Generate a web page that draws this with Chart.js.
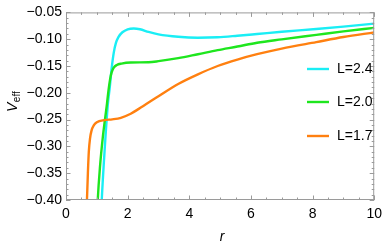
<!DOCTYPE html>
<html>
<head>
<meta charset="utf-8">
<script src="https://cdn.jsdelivr.net/npm/chart.js@4/dist/chart.umd.min.js"></script>
<style>
  body { margin: 0; background: #fff; }
  canvas { display: block; }
</style>
</head>
<body>
<canvas id="chart" width="388" height="246"></canvas>
<script>
// values
const seriesLabels = ['L=2.4', 'L=2.0', 'L=1.7'];
const seriesColors = ['#1aeef5', '#1ee61e', '#ff8010'];

const r24 = [1.13, 1.16, 1.25, 1.36, 1.42, 1.48, 1.55, 1.62, 1.70, 1.83, 2.0, 2.2, 2.4, 2.68, 3.0, 3.64, 4.28, 4.92, 5.56, 6.2, 7.0, 8.12, 9.0, 10];
const v24 = [-0.44, -0.40, -0.31, -0.22, -0.19, -0.155, -0.125, -0.107, -0.096, -0.087, -0.0815, -0.0800, -0.0815, -0.0865, -0.091, -0.0955, -0.0972, -0.0963, -0.0935, -0.0903, -0.0862, -0.081, -0.0765, -0.071];

const r20 = [1.0, 1.03, 1.1, 1.2, 1.33, 1.38, 1.43, 1.48, 1.55, 1.65, 1.8, 2.1, 2.68, 3.0, 3.64, 4.28, 4.92, 5.56, 6.2, 7.0, 8.12, 9.0, 10];
const v20 = [-0.44, -0.40, -0.34, -0.28, -0.22, -0.195, -0.175, -0.162, -0.153, -0.148, -0.1455, -0.1435, -0.143, -0.141, -0.1354, -0.128, -0.1204, -0.1137, -0.1066, -0.1003, -0.092, -0.0855, -0.0789];

const r17 = [0.66, 0.68, 0.71, 0.74, 0.78, 0.83, 0.90, 1.0, 1.25, 1.5, 1.78, 2.1, 2.36, 3.0, 3.64, 4.28, 4.92, 5.56, 6.2, 7.0, 8.12, 9.0, 10];
const v17 = [-0.44, -0.40, -0.35, -0.31, -0.285, -0.27, -0.261, -0.255, -0.251, -0.2495, -0.2466, -0.239, -0.230, -0.2064, -0.1835, -0.1655, -0.150, -0.138, -0.128, -0.1175, -0.1054, -0.096, -0.0873];

const xTicks = [0, 2, 4, 6, 8, 10];
const yTicks = [-0.40, -0.35, -0.30, -0.25, -0.20, -0.15, -0.10, -0.05];

const FONT = 'Liberation Sans, Arial, sans-serif';
const FRAME = '#9a9a9a';

function toPoints(xs, ys) {
    return xs.map((x, i) => ({ x: x, y: ys[i] }));
}

const allR = [r24, r20, r17];
const allV = [v24, v20, v17];

const datasets = seriesLabels.map((label, i) => ({
    label: label,
    data: toPoints(allR[i], allV[i]),
    borderColor: seriesColors[i],
    borderWidth: 2.4,
    pointRadius: 0,
    fill: false,
    cubicInterpolationMode: 'monotone',
    order: 2 - i
}));

/* frame, inward ticks, axis titles and legend */
const decorations = {
    id: 'decorations',
    afterDraw(chart) {
        const ctx = chart.ctx;
        const a = chart.chartArea;
        const xs = chart.scales.x;
        const ys = chart.scales.y;
        ctx.save();

        ctx.strokeStyle = FRAME;
        ctx.lineWidth = 1;
        ctx.strokeRect(a.left + 0.5, a.top + 0.5, a.right - a.left - 1, a.bottom - a.top - 1);

        ctx.beginPath();
        for (let i = 0; i <= 20; i++) {
            const px = Math.round(xs.getPixelForValue(i * 0.5)) + 0.5;
            const len = (i % 4 === 0) ? 4.5 : 2.5;
            ctx.moveTo(px, a.bottom);
            ctx.lineTo(px, a.bottom - len);
            ctx.moveTo(px, a.top);
            ctx.lineTo(px, a.top + len);
        }
        for (let i = 0; i <= 35; i++) {
            const py = Math.round(ys.getPixelForValue(-0.40 + i * 0.01)) + 0.5;
            const len = (i % 5 === 0) ? 4.5 : 2.5;
            ctx.moveTo(a.left, py);
            ctx.lineTo(a.left + len, py);
            ctx.moveTo(a.right, py);
            ctx.lineTo(a.right - len, py);
        }
        ctx.stroke();

        // x title
        ctx.fillStyle = '#000';
        ctx.font = 'italic 14px ' + FONT;
        ctx.textAlign = 'center';
        ctx.textBaseline = 'alphabetic';
        ctx.fillText('r', 222, 241);

        // y title with subscript
        ctx.translate(17, 112);
        ctx.rotate(-Math.PI / 2);
        ctx.textAlign = 'left';
        ctx.font = 'italic 14px ' + FONT;
        ctx.fillText('V', 0, 0);
        const w = ctx.measureText('V').width;
        ctx.font = '10px ' + FONT;
        ctx.fillText('eff', w + 0.5, 3);
        ctx.setTransform(1, 0, 0, 1, 0, 0);

        // legend
        const legendY = [69, 102, 136];
        ctx.font = '14px ' + FONT;
        ctx.textBaseline = 'middle';
        seriesLabels.forEach((label, i) => {
            ctx.strokeStyle = seriesColors[i];
            ctx.lineWidth = 2.4;
            ctx.beginPath();
            ctx.moveTo(307, legendY[i]);
            ctx.lineTo(329, legendY[i]);
            ctx.stroke();
            ctx.fillStyle = '#000';
            ctx.fillText(label, 337, legendY[i] + 0.5);
        });

        ctx.restore();
    }
};

new Chart(document.getElementById('chart'), {
    type: 'line',
    data: { datasets: datasets },
    options: {
        responsive: false,
        animation: false,
        devicePixelRatio: 1,
        layout: { padding: { top: 6, right: 9, left: 0, bottom: 0 } },
        plugins: {
            legend: { display: false },
            tooltip: { enabled: false }
        },
        scales: {
            x: {
                type: 'linear',
                min: 0,
                max: 10,
                afterBuildTicks: s => { s.ticks = xTicks.map(v => ({ value: v })); },
                afterFit: s => { s.height = 46; },
                grid: { display: false, drawTicks: false },
                border: { display: false },
                ticks: {
                    color: '#000',
                    font: { family: FONT, size: 14 },
                    padding: 6,
                    maxRotation: 0,
                    callback: v => String(v)
                }
            },
            y: {
                type: 'linear',
                min: -0.40,
                max: -0.05,
                afterBuildTicks: s => { s.ticks = yTicks.map(v => ({ value: v })); },
                afterFit: s => { s.width = 66; },
                grid: { display: false, drawTicks: false },
                border: { display: false },
                ticks: {
                    color: '#000',
                    font: { family: FONT, size: 14 },
                    padding: 4,
                    callback: v => v.toFixed(2).replace('-', '\u2212')
                }
            }
        }
    },
    plugins: [decorations]
});
</script>
</body>
</html>
